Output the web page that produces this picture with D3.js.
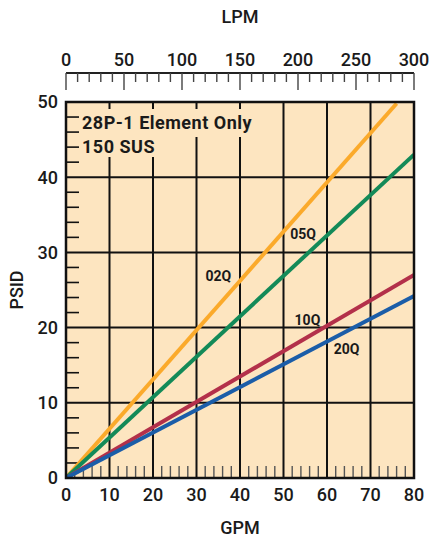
<!DOCTYPE html>
<html lang="en">
<head>
<meta charset="UTF-8">
<title>28P-1 Element Only</title>
<script src="https://cdn.jsdelivr.net/npm/d3@7"></script>
<style>
  body { margin: 0; background: #fff; }
  text { font-family: Roboto, "Noto Sans", sans-serif; fill: #1a1a1a; }
</style>
</head>
<body>
<svg id="chart" width="430" height="542"></svg>
<script>
// chart data
var gpmTicks = [0, 10, 20, 30, 40, 50, 60, 70, 80];
var lpmTicks = [0, 50, 100, 150, 200, 250, 300];
var psidTicks = [0, 10, 20, 30, 40, 50];
var seriesNames = ["02Q", "05Q", "10Q", "20Q"];
var seriesGpm = [[0, 76], [0, 80], [0, 80], [0, 80]];
var seriesPsid = [[0, 49.8], [0, 43], [0, 27], [0, 24.2]];
var seriesColors = ["#FBAA2B", "#138A58", "#B3304A", "#1B5DA8"];
// label anchor points (gpm, psid)
var labelGpm = [35, 54.5, 55.5, 64.5];
var labelPsid = [26.9, 32.4, 21, 17.1];

var svg = d3.select("#chart");
var plotL = 66, plotR = 414, plotT = 102, plotB = 478;

var x = d3.scaleLinear().domain([0, 80]).range([plotL, plotR]);
var xLpm = d3.scaleLinear().domain([0, 300]).range([plotL, plotR]);
var y = d3.scaleLinear().domain([0, 50]).range([plotB, plotT]);

// plot background
svg.append("rect")
    .attr("x", plotL).attr("y", plotT)
    .attr("width", plotR - plotL).attr("height", plotB - plotT)
    .attr("fill", "#FDE5C0");

// grid
var grid = svg.append("g").attr("stroke", "#111").attr("stroke-width", 2);
grid.selectAll("line.v").data(gpmTicks.slice(1, -1)).enter().append("line")
    .attr("x1", function(d) { return x(d); }).attr("x2", function(d) { return x(d); })
    .attr("y1", plotT).attr("y2", plotB);
grid.selectAll("line.h").data(psidTicks.slice(1, -1)).enter().append("line")
    .attr("y1", function(d) { return y(d); }).attr("y2", function(d) { return y(d); })
    .attr("x1", plotL).attr("x2", plotR);

// title with masking background
var title = svg.append("g");
title.append("rect").attr("x", plotL + 10).attr("y", plotT + 7).attr("width", 196).attr("height", 28).attr("fill", "#FDE5C0");
title.append("rect").attr("x", plotL + 10).attr("y", plotT + 35).attr("width", 82).attr("height", 20).attr("fill", "#FDE5C0");
title.append("text").attr("x", 82).attr("y", 129)
    .attr("font-size", 18).attr("font-weight", 700).attr("letter-spacing", 0.5).text("28P-1 Element Only");
title.append("text").attr("x", 82).attr("y", 153)
    .attr("font-size", 18).attr("font-weight", 700).attr("letter-spacing", 0.5).text("150 SUS");

// minor ticks inside plot
var minorPsid = d3.range(2, 50, 2).filter(function(d) { return d % 10 !== 0; });
svg.append("g").selectAll("line").data(minorPsid).enter().append("line")
    .attr("x1", plotL).attr("x2", plotL + 13)
    .attr("y1", function(d) { return y(d); }).attr("y2", function(d) { return y(d); })
    .attr("stroke", "#111").attr("stroke-width", 1.6);

var minorGpm = d3.range(2, 80, 2).filter(function(d) { return d % 10 !== 0; });
svg.append("g").selectAll("line").data(minorGpm).enter().append("line")
    .attr("x1", function(d) { return x(d); }).attr("x2", function(d) { return x(d); })
    .attr("y1", plotB).attr("y2", plotB - 12)
    .attr("stroke", "#555").attr("stroke-width", 1.4);

// series lines
var line = d3.line()
    .x(function(d) { return x(d[0]); })
    .y(function(d) { return y(d[1]); });

svg.append("clipPath").attr("id", "plotclip").append("rect")
    .attr("x", plotL).attr("y", plotT).attr("width", plotR - plotL).attr("height", plotB - plotT);

seriesNames.forEach(function(name, i) {
    var pts = seriesGpm[i].map(function(g, j) { return [g, seriesPsid[i][j]]; });
    svg.append("path")
        .datum(pts)
        .attr("d", line)
        .attr("clip-path", "url(#plotclip)")
        .attr("fill", "none")
        .attr("stroke", seriesColors[i])
        .attr("stroke-width", 4);
    svg.append("text")
        .attr("x", x(labelGpm[i])).attr("y", y(labelPsid[i]))
        .attr("text-anchor", "middle").attr("dy", "0.35em")
        .attr("font-size", 14).attr("font-weight", 700)
        .text(name);
});

// frame
svg.append("rect")
    .attr("x", plotL).attr("y", plotT)
    .attr("width", plotR - plotL).attr("height", plotB - plotT)
    .attr("fill", "none").attr("stroke", "#111").attr("stroke-width", 2.5);

// left axis labels
svg.append("g").selectAll("text").data(psidTicks).enter().append("text")
    .attr("x", plotL - 8).attr("y", function(d) { return y(d); })
    .attr("dy", "0.36em").attr("text-anchor", "end")
    .attr("font-size", 18).attr("font-weight", 500)
    .text(function(d) { return d; });

// bottom axis labels
svg.append("g").selectAll("text").data(gpmTicks).enter().append("text")
    .attr("x", function(d) { return x(d); }).attr("y", 495)
    .attr("dy", "0.36em").attr("text-anchor", "middle")
    .attr("font-size", 18).attr("font-weight", 500)
    .text(function(d) { return d; });

// top LPM axis
var topY = 73;
svg.append("line").attr("x1", plotL).attr("x2", plotR).attr("y1", topY).attr("y2", topY)
    .attr("stroke", "#222").attr("stroke-width", 1.8);
svg.append("g").selectAll("line").data(d3.range(0, 301, 10)).enter().append("line")
    .attr("x1", function(d) { return xLpm(d); }).attr("x2", function(d) { return xLpm(d); })
    .attr("y1", topY).attr("y2", function(d) { return d % 50 === 0 ? 90 : 82; })
    .attr("stroke", "#444").attr("stroke-width", 1.4);
svg.append("g").selectAll("text").data(lpmTicks).enter().append("text")
    .attr("x", function(d) { return xLpm(d); }).attr("y", 60)
    .attr("dy", "0.36em").attr("text-anchor", "middle")
    .attr("font-size", 18).attr("font-weight", 500)
    .text(function(d) { return d; });

// axis titles
svg.append("text").attr("x", 240).attr("y", 17).attr("dy", "0.36em")
    .attr("text-anchor", "middle").attr("font-size", 18).attr("font-weight", 500).text("LPM");
svg.append("text").attr("x", 240).attr("y", 528).attr("dy", "0.36em")
    .attr("text-anchor", "middle").attr("font-size", 18).attr("font-weight", 500).text("GPM");
svg.append("text").attr("transform", "translate(17,290) rotate(-90)").attr("dy", "0.36em")
    .attr("text-anchor", "middle").attr("font-size", 18).attr("font-weight", 500).text("PSID");
</script>
</body>
</html>
